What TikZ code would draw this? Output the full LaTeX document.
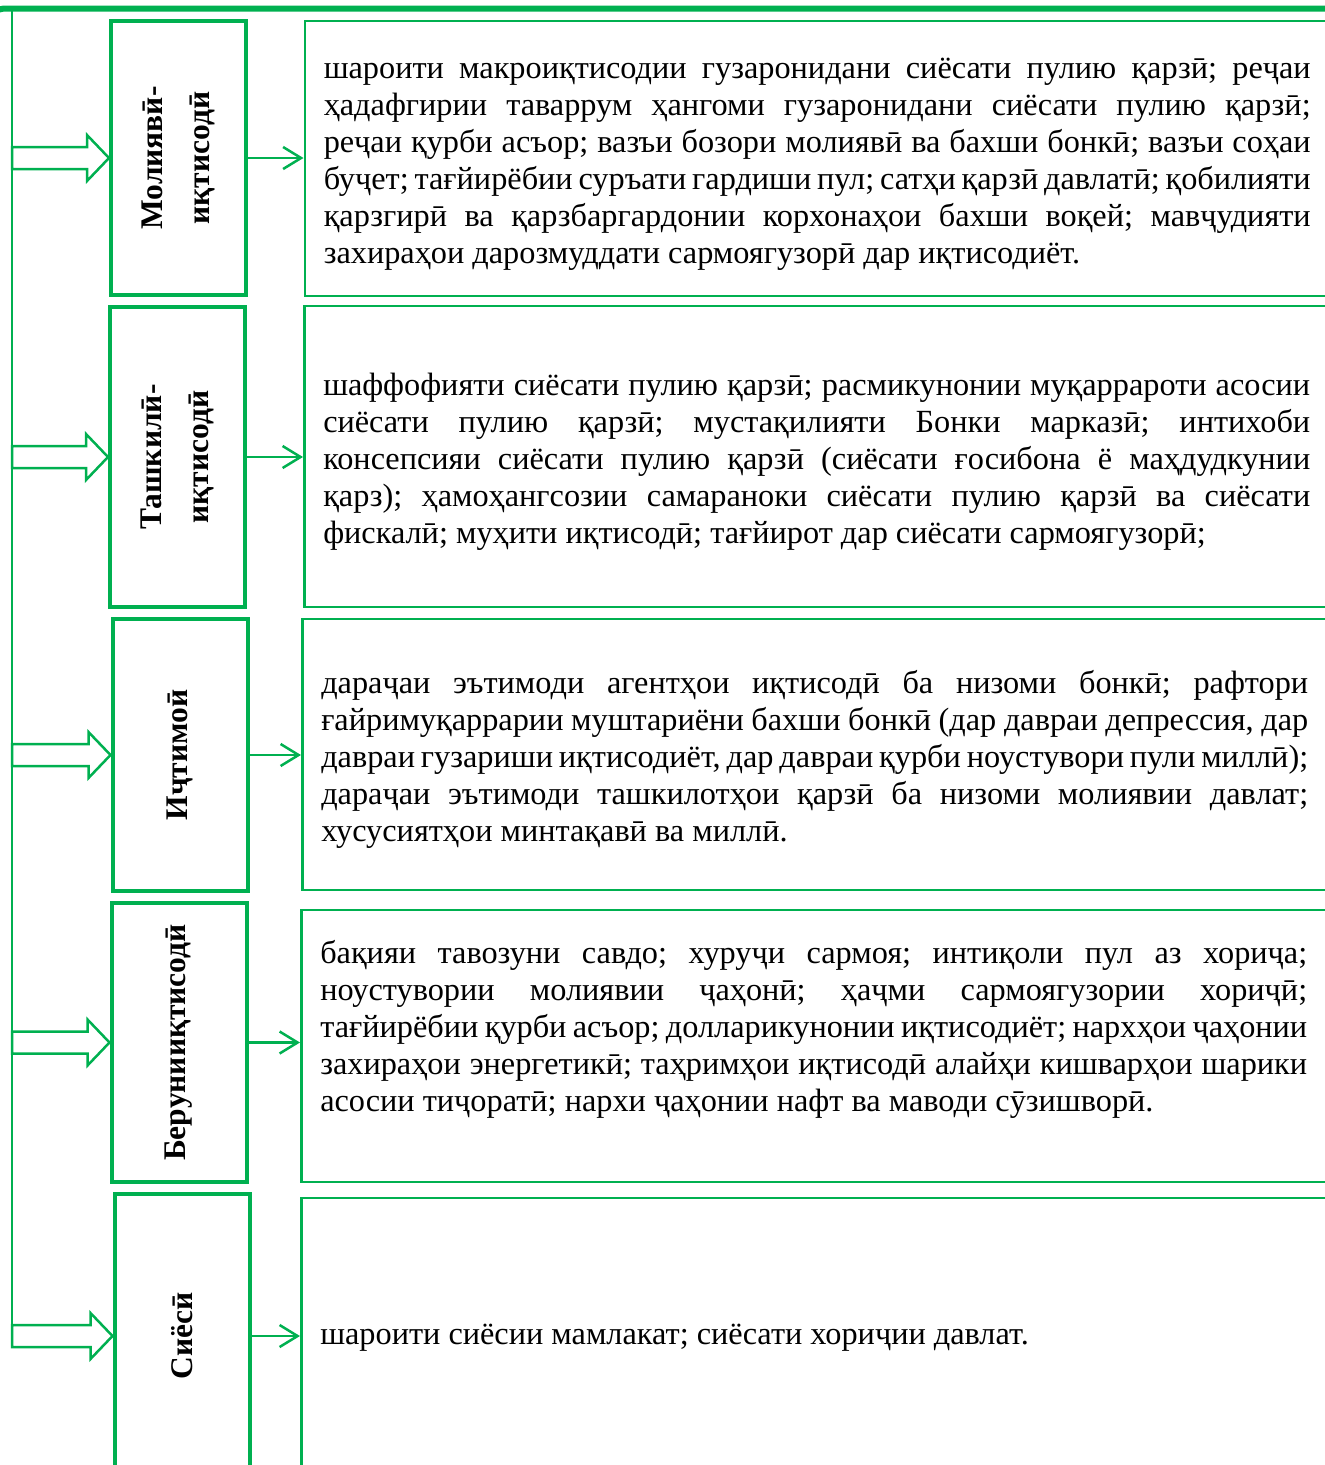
\documentclass[tikz,border=0pt]{standalone}
\usepackage{fontspec}
\setmainfont{Liberation Serif}
\usetikzlibrary{arrows.meta}
\definecolor{leaf}{RGB}{0,176,80}
\frenchspacing

\begin{document}
\begin{tikzpicture}[x=1pt,y=-1pt,
  >={Straight Barb[length=18pt,width=22pt]},
  facbox/.style={draw=leaf,line width=4pt,minimum width=135pt,inner sep=0pt},
  facname/.style={rotate=90,align=center,inner sep=0pt,
    font=\fontsize{31.5}{47}\selectfont\bfseries},
  descbox/.style={draw=leaf,line width=2.5pt,anchor=west,text width=987pt,
    inner xsep=19pt,inner ysep=0pt},
  desctext/.style={text width=987pt,inner sep=0pt,align=justify,
    font=\fontsize{32.3}{37}\selectfont},
  link/.style={->,draw=leaf,line width=2.5pt},
  hollow/.style={draw=leaf,line width=2.5pt,line join=miter}]
\useasboundingbox (0,0) rectangle (1325,1465);
\clip (0,0) rectangle (1325,1465);

% frame and spine
\draw[leaf,line width=6pt,rounded corners=12pt] (-8,40) |- (1340,8.5);
\coordinate (spine) at (12,10);

% factor boxes
\node[facbox,minimum height=274pt] (fac1) at (178.5,158) {};
\node[facbox,minimum height=300pt] (fac2) at (177.5,457) {};
\node[facbox,minimum height=272pt] (fac3) at (180,755) {};
\node[facbox,minimum height=279pt] (fac4) at (179,1042.5) {};
\node[facbox,minimum height=284pt] (fac5) at (182,1336) {};

\node[facname] (name1) at (fac1) {Молиявӣ-\\иқтисодӣ};
\node[facname] (name2) at (fac2) {Ташкилӣ-\\иқтисодӣ};
\node[facname] (name3) at (fac3) {Иҷтимоӣ};
\node[facname] (name4) at (fac4) {Берунииқтисодӣ};
\node[facname] (name5) at (fac5) {Сиёсӣ};

% description boxes
\node[descbox,minimum height=275pt] (desc1) at (303.5,158.5) {};
\node[descbox,minimum height=301pt] (desc2) at (303,456.5) {};
\node[descbox,minimum height=271pt] (desc3) at (301,754.5) {};
\node[descbox,minimum height=272pt] (desc4) at (300,1046) {};
\node[descbox,minimum height=280pt] (desc5) at (300,1338) {};

\node[desctext] (note1) at ([yshift=-5.5pt]desc1.center)
  {шароити макроиқтисодии гузаронидани сиёсати пулию қарзӣ; реҷаи\linebreak
   ҳадафгирии таваррум ҳангоми гузаронидани сиёсати пулию қарзӣ;\linebreak
   реҷаи қурби асъор; вазъи бозори молиявӣ ва бахши бонкӣ; вазъи соҳаи\linebreak
   буҷет; тағйирёбии суръати гардиши пул; сатҳи қарзӣ давлатӣ; қобилияти\linebreak
   қарзгирӣ ва қарзбаргардонии корхонаҳои бахши воқей; мавҷудияти\linebreak
   захираҳои дарозмуддати сармоягузорӣ дар иқтисодиёт.};
\node[desctext] (note2) at ([yshift=-5.5pt]desc2.center)
  {шаффофияти сиёсати пулию қарзӣ; расмикунонии муқаррароти асосии\linebreak
   сиёсати пулию қарзӣ; мустақилияти Бонки марказӣ; интихоби\linebreak
   консепсияи сиёсати пулию қарзӣ (сиёсати ғосибона ё маҳдудкунии\linebreak
   қарз); ҳамоҳангсозии самараноки сиёсати пулию қарзӣ ва сиёсати\linebreak
   фискалӣ; муҳити иқтисодӣ; тағйирот дар сиёсати сармоягузорӣ;};
\node[desctext] (note3) at ([yshift=-4.5pt]desc3.center)
  {дараҷаи эътимоди агентҳои иқтисодӣ ба низоми бонкӣ; рафтори\linebreak
   ғайримуқаррарии муштариёни бахши бонкӣ (дар давраи депрессия, дар\linebreak
   давраи гузариши иқтисодиёт, дар давраи қурби ноустувори пули миллӣ);\linebreak
   дараҷаи эътимоди ташкилотҳои қарзӣ ба низоми молиявии давлат;\linebreak
   хусусиятҳои минтақавӣ ва миллӣ.};
\node[desctext] (note4) at ([yshift=16.5pt]desc4.center)
  {бақияи тавозуни савдо; хуруҷи сармоя; интиқоли пул аз хориҷа;\linebreak
   ноустувории молиявии ҷаҳонӣ; ҳаҷми сармоягузории хориҷӣ;\linebreak
   тағйирёбии қурби асъор; долларикунонии иқтисодиёт; нархҳои ҷаҳонии\linebreak
   захираҳои энергетикӣ; таҳримҳои иқтисодӣ алайҳи кишварҳои шарики\linebreak
   асосии тиҷоратӣ; нархи ҷаҳонии нафт ва маводи сӯзишворӣ.};
\node[desctext] (note5) at (desc5.center)
  {шароити сиёсии мамлакат; сиёсати хориҷии давлат.};

% connectors
\foreach \i in {1,...,5}{
  \draw[hollow] (fac\i.west) -- ++(-22,-23) -- ++(0,12) coordinate (u\i)
    -- (u\i -| spine) -- ++(0,22) coordinate (v\i) -- (v\i -| u\i)
    -- ++(0,12) -- cycle;
  \draw[link] (fac\i.east) -- (fac\i.east -| desc\i.west);
}
\draw[hollow] (spine) -- (spine |- v5);

\end{tikzpicture}
\end{document}
